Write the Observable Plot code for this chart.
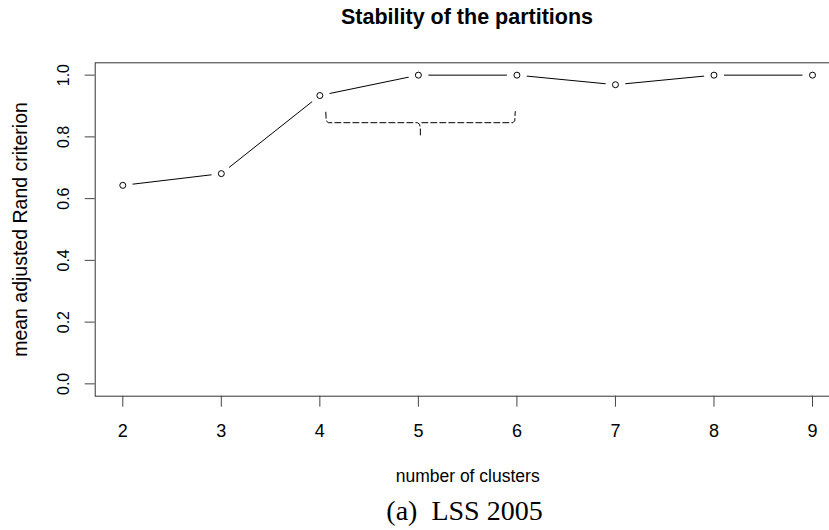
<!DOCTYPE html>
<html><head><meta charset="utf-8">
<script src="https://cdn.jsdelivr.net/npm/d3@7"></script>
<script src="https://cdn.jsdelivr.net/npm/@observablehq/plot@0.6"></script>
<style>
html,body{margin:0;padding:0;background:#fff;overflow:hidden;width:829px;height:530px;position:relative;}
#title{position:absolute;left:0;top:4.7px;width:934px;text-align:center;font-weight:bold;font-size:21.5px;font-family:"Liberation Sans",Arial,sans-serif;line-height:24px;color:#000;white-space:nowrap;}
#chart{position:absolute;left:0;top:40px;}
#caption{position:absolute;left:0;top:495.5px;width:929px;text-align:center;font-size:28px;font-family:"Liberation Serif","Times New Roman",serif;line-height:30px;color:#000;white-space:pre;}
</style>
</head><body>
<div id="title"></div>
<div id="chart"></div>
<div id="caption"></div>
<script>
const title = "Stability of the partitions";
const xLabel = "number of clusters";
const yLabel = "mean adjusted Rand criterion";
const caption = "(a)  LSS 2005";

const clusters = [2, 3, 4, 5, 6, 7, 8, 9];
const meanARI = [0.643, 0.681, 0.934, 1.0, 1.0, 0.969, 1.0, 1.0];

const xTicks = [2, 3, 4, 5, 6, 7, 8, 9];
const yTicks = [0, 0.2, 0.4, 0.6, 0.8, 1.0];

// dashed brace annotation (two strokes)
const braceX = [4.06, 4.065, 4.085, 4.99, 5.012, 5.02, 5.02,   5.035, 5.96, 5.978, 5.983];
const braceY = [0.880, 0.852, 0.846, 0.846, 0.841, 0.828, 0.806,  0.846, 0.846, 0.852, 0.882];
const braceSeg = [0, 0, 0, 0, 0, 0, 0,  1, 1, 1, 1];

document.getElementById("title").textContent = title;
document.getElementById("caption").textContent = caption;

const data = clusters.map((k, i) => ({k, v: meanARI[i]}));
const brace = braceX.map((x, i) => ({x, y: braceY[i], g: braceSeg[i]}));

const plot = Plot.plot({
  width: 841,
  height: 450,
  marginLeft: 94.7,
  marginRight: 1.4,
  marginTop: 22.3,
  marginBottom: 94.3,
  style: {fontFamily: "'Liberation Sans', Arial, sans-serif", fontSize: "18px", color: "#000", background: "transparent", maxWidth: "none", overflow: "visible"},
  x: {domain: [1.72, 9.28], label: null},
  y: {domain: [-0.04, 1.04], label: null},
  marks: [
    Plot.frame({stroke: "#333", strokeWidth: 1}),
    Plot.axisX(xTicks, {tickSize: 11, tickPadding: 17.5, fontSize: 18, stroke: "#444", label: null, tickFormat: d => String(d)}),
    Plot.axisY(yTicks, {tickSize: 10, tickPadding: 21.7, tickRotate: -90, textAnchor: "middle", lineAnchor: "middle", fontSize: 16, stroke: "#444", label: null, tickFormat: d3.format(".1f")}),
    Plot.line(data, {x: "k", y: "v", stroke: "#000", strokeWidth: 1}),
    Plot.dot(data, {x: "k", y: "v", r: 10, fill: "#fff", stroke: null}),
    Plot.dot(data, {x: "k", y: "v", r: 3, fill: "#fff", stroke: "#000", strokeWidth: 1}),
    Plot.line(brace, {x: "x", y: "y", z: "g", stroke: "#000", strokeWidth: 1, strokeDasharray: "6,3"}),
    Plot.text([xLabel], {text: d => d, frameAnchor: "bottom", dy: 85.5, fontSize: 17.5}),
    Plot.text([yLabel], {text: d => d, frameAnchor: "left", dx: -74.7, rotate: -90, textAnchor: "middle", fontSize: 19.5})
  ]
});
document.getElementById("chart").appendChild(plot);
</script>
</body></html>
